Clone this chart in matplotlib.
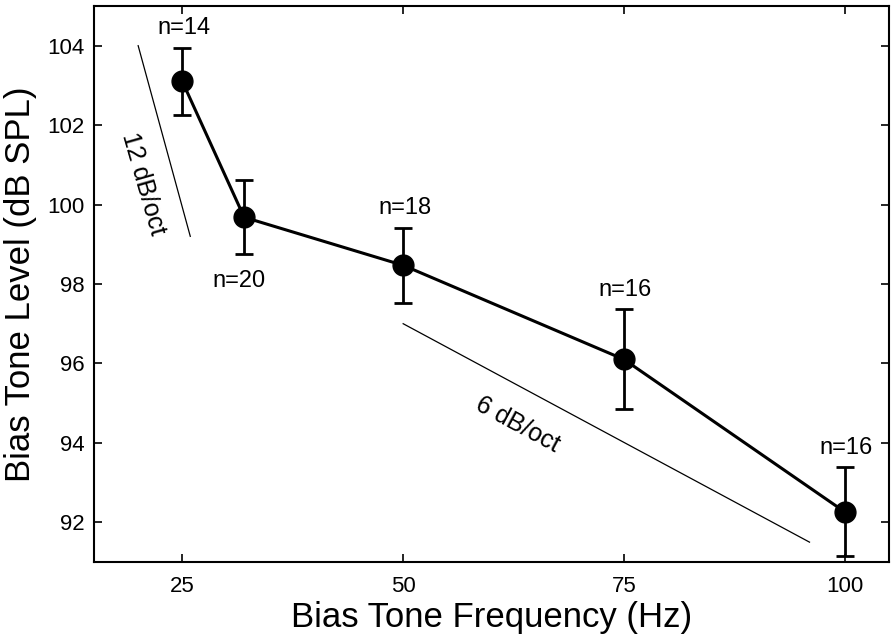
import matplotlib
matplotlib.use('Agg')
import matplotlib.pyplot as plt

# Datos
frecuencia = [25, 32, 50, 75, 100]
nivel = [103.1, 99.68, 98.47, 96.1, 92.26]
error = [0.85, 0.93, 0.95, 1.26, 1.12]
n_sujetos = ['n=14', 'n=20', 'n=18', 'n=16', 'n=16']

# Lineas de referencia de pendiente
ref12_x = [20, 25.9]
ref12_y = [104.0, 99.2]
ref6_x = [50, 96]
ref6_y = [97.0, 91.5]

plt.rcParams['font.family'] = ['Liberation Sans', 'DejaVu Sans']

fig = plt.figure(figsize=(8.96, 6.42), dpi=100)
ax = fig.add_axes([0.1049, 0.1246, 0.8873, 0.8661])

ax.plot(ref12_x, ref12_y, color='black', linewidth=0.9)
ax.plot(ref6_x, ref6_y, color='black', linewidth=0.9)

ax.errorbar(frecuencia, nivel, yerr=error, color='black', linewidth=2.2,
            elinewidth=2.0, capsize=6.5, capthick=2.0, marker='o',
            markersize=15, zorder=3)

# Etiquetas n= (arriba, excepto 32 Hz que va abajo)
for x, y, e, txt in zip(frecuencia, nivel, error, n_sujetos):
    if x == 32:
        ax.annotate(txt, (x, y - e), xytext=(-4, -19), textcoords='offset points',
                    ha='center', va='center', fontsize=17)
    else:
        ax.annotate(txt, (x, y + e), xytext=(1, 14), textcoords='offset points',
                    ha='center', va='center', fontsize=17)

ax.text(20.6, 100.53, '12 dB/oct', rotation=-74, ha='center', va='center',
        fontsize=18, rotation_mode='anchor')
ax.text(62.9, 94.47, '6 dB/oct', rotation=-28.4, ha='center', va='center',
        fontsize=18, rotation_mode='anchor')

ax.set_xlim(15, 105)
ax.set_ylim(91, 105)
ax.set_xticks([25, 50, 75, 100])
ax.set_yticks([92, 94, 96, 98, 100, 102, 104])
ax.tick_params(direction='in', top=True, right=True, length=6, width=1.2,
               labelsize=16)
ax.tick_params(axis='x', pad=10)
ax.tick_params(axis='y', pad=7)
ax.tick_params(labeltop=False, labelright=False)
for s in ax.spines.values():
    s.set_linewidth(1.5)

ax.set_xlabel('Bias Tone Frequency (Hz)', fontsize=25, labelpad=3)
ax.set_ylabel('Bias Tone Level (dB SPL)', fontsize=25, labelpad=7)

fig.savefig('out.png', dpi=100)
